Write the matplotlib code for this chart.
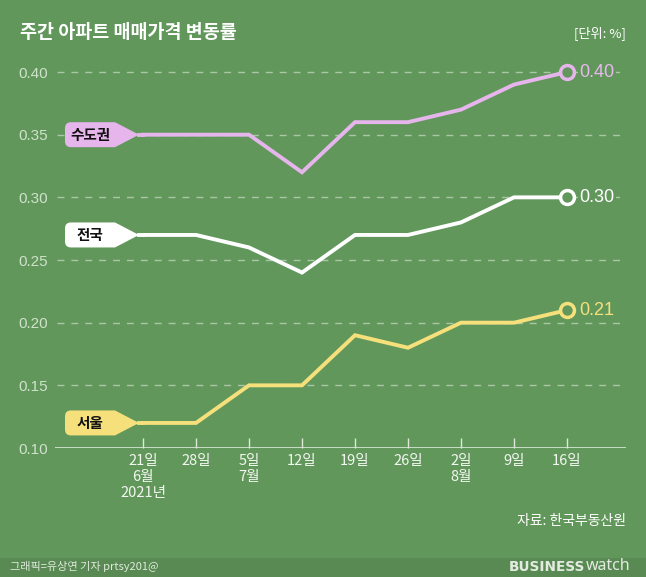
import matplotlib
matplotlib.use("Agg")
import matplotlib.pyplot as plt
from matplotlib.path import Path
from matplotlib.patches import PathPatch, Rectangle
from matplotlib import transforms

plt.rcParams['font.family'] = ['Noto Sans CJK KR', 'DejaVu Sans']

# ---- data ----
x_labels = ["21일\n6월\n2021년", "28일", "5일\n7월", "12일", "19일", "26일", "2일\n8월", "9일", "16일"]
series_names = ["수도권", "전국", "서울"]
capital = [0.35, 0.35, 0.35, 0.32, 0.36, 0.36, 0.37, 0.39, 0.40]
national = [0.27, 0.27, 0.26, 0.24, 0.27, 0.27, 0.28, 0.30, 0.30]
seoul = [0.12, 0.12, 0.15, 0.15, 0.19, 0.18, 0.20, 0.20, 0.21]
y_ticks = [0.10, 0.15, 0.20, 0.25, 0.30, 0.35, 0.40]

BG = "#62975c"
FOOT = "#5a8a54"
colors = ["#e5b5ec", "#ffffff", "#f5e07c"]
end_label_colors = ["#e8b9ee", "#ffffff", "#f5e07c"]

W, H = 646, 577
fig = plt.figure(figsize=(W / 100, H / 100), dpi=100, facecolor=BG)

# footer band
fig.patches.append(Rectangle((0, 0), 1, 19 / H, transform=fig.transFigure,
                             facecolor=FOOT, edgecolor="none", zorder=0))

ax = fig.add_axes([55 / W, 129 / H, (626 - 55) / W, (517.5 - 129) / H])
ax.set_facecolor("none")
for s in ax.spines.values():
    s.set_visible(False)

xs = list(range(len(x_labels)))
ax.set_xlim((55 - 143) / 53, (626 - 143) / 53)
ax.set_ylim(0.10, 0.41)

# grid lines
grid_col = "#a9c7a4"
for yv in y_ticks[1:]:
    ax.axhline(yv, xmin=2 / 571, xmax=1, color=grid_col, lw=1.0, ls=(0, (5, 5)), zorder=1)
ax.axhline(0.10, color="#dce9d9", lw=1.2, zorder=2)

ax.set_yticks(y_ticks)
ax.set_yticklabels([f"{v:.2f}" for v in y_ticks], fontsize=11, color="#cfe2cb",
                   family=["Liberation Sans"])
ax.tick_params(axis="y", length=0, pad=5)

ax.set_xticks(xs)
ax.set_xticklabels(x_labels, fontsize=10.5, color="#f3f7f1", linespacing=1.2)
ax.tick_params(axis="x", direction="in", length=7, width=1, color="#dce9d9", pad=4)

all_series = [capital, national, seoul]
for name, vals, col, lc in zip(series_names, all_series, colors, end_label_colors):
    ax.plot(xs, vals, color=col, lw=2.8, solid_joinstyle="miter", zorder=3)
    ax.plot(xs[-1], vals[-1], marker="o", ms=10, mfc=BG, mec=col, mew=2.5, zorder=4)
    ax.annotate(f"{vals[-1]:.2f}", (xs[-1], vals[-1]), xytext=(9, 0),
                textcoords="offset points", ha="left", va="center",
                fontsize=13, color=lc, family=["Liberation Sans"], zorder=5,
                bbox=dict(boxstyle="square,pad=0.1", facecolor=BG, edgecolor="none"))
    # tag
    tr = fig.dpi_scale_trans + transforms.ScaledTranslation(xs[0], vals[0], ax.transData)
    L, bx, tip, h, r = -0.78, -0.28, -0.04, 0.125, 0.06
    verts = [(bx, h), (tip, 0), (bx, -h), (L + r, -h), (L, -h), (L, -h + r),
             (L, h - r), (L, h), (L + r, h), (bx, h)]
    codes = [Path.MOVETO, Path.LINETO, Path.LINETO, Path.LINETO, Path.CURVE3, Path.CURVE3,
             Path.LINETO, Path.CURVE3, Path.CURVE3, Path.CLOSEPOLY]
    ax.add_patch(PathPatch(Path(verts, codes), transform=tr, facecolor=col,
                           edgecolor="none", zorder=5, clip_on=False))
    ax.plot([tip, 0.0], [0, 0], transform=tr, color=col, lw=2.8, zorder=3, clip_on=False)
    ax.text(-0.53, -0.005, name, transform=tr, ha="center", va="center",
            fontsize=10.5, fontweight="bold", color="#111111", zorder=6)

# titles & notes
fig.text(20 / W, 1 - 33 / H, "주간 아파트 매매가격 변동률", fontsize=13.3, fontweight="bold",
         color="white", ha="left", va="center")
fig.text(626 / W, 1 - 33 / H, "[단위: %]", fontsize=9.5, color="white", ha="right", va="center")
fig.text(626 / W, 1 - 521 / H, "자료: 한국부동산원", fontsize=10, color="white",
         ha="right", va="center")
fig.text(10 / W, 1 - 567 / H, "그래픽=유상연 기자 prtsy201@", fontsize=8, color="#dfe9dc",
         ha="left", va="center")
fig.text(585 / W, 1 - 567 / H, "BUSINESS", fontsize=9.8, fontweight="black", color="#e3ebe0",
         ha="right", va="center", family=["DejaVu Sans"])
fig.text(586 / W, 1 - 566 / H, "watch", fontsize=11.5, fontweight="light", color="#e3ebe0",
         ha="left", va="center", family=["Noto Sans"])

fig.savefig("out.png", dpi=100, facecolor=BG)
